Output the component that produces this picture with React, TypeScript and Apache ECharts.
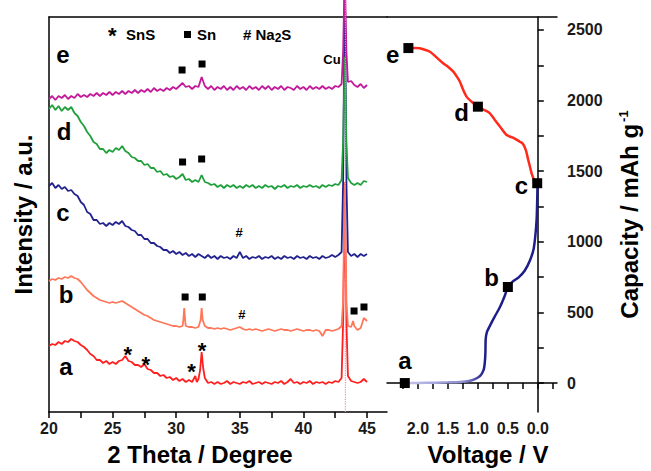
import { useEffect, useRef } from "react";
import * as echarts from "echarts";

// ---------- XRD patterns (left panel) ----------
// 2θ grid, 0.25° steps from 20 to 45
const twoTheta = Array.from({ length: 101 }, (_, i) => 20 + i * 0.25);

const xrdA = [
  66, 68, 67, 70, 68, 71, 70, 73, 71, 70,
  67, 65, 62, 58, 56, 52, 52, 49, 51, 48,
  50, 48, 51, 52, 56, 51, 50, 47, 47, 45,
  48, 43, 42, 39, 39, 36, 37, 34, 35, 32,
  34, 31, 33, 30, 32, 30, 36, 33, 60, 34,
  29, 30, 28, 30, 28, 29, 31, 28, 30, 29,
  28, 30, 29, 31, 28, 29, 30, 28, 30, 29,
  28, 30, 29, 31, 28, 30, 33, 29, 30, 28,
  30, 29, 31, 28, 30, 29, 30, 28, 30, 29,
  31, 30, 34, 210, 36, 31, 30, 29, 30, 33,
  30,
];
const xrdAExtra = [[31.62, 30], [31.88, 42], [32.12, 44], [43.12, 90], [43.38, 90]];

const xrdB = [
  131, 133, 132, 134, 133, 135, 134, 136, 134, 133,
  130, 126, 122, 119, 116, 114, 112, 111, 110, 109,
  110, 109, 110, 111, 109, 107, 105, 103, 101, 99,
  97, 96, 94, 92, 91, 90, 89, 88, 87, 86,
  86, 85, 86, 86, 85, 85, 84, 85, 104, 86,
  84, 84, 83, 84, 83, 84, 83, 82, 83, 84,
  85, 83, 82, 83, 82, 83, 82, 81, 82, 83,
  82, 81, 82, 83, 82, 82, 81, 82, 83, 82,
  81, 82, 82, 81, 82, 81, 76, 82, 82, 81,
  82, 83, 86, 230, 86, 85, 86, 82, 84, 94,
  91,
];
const xrdBExtra = [[30.56, 92], [30.63, 104], [30.7, 92], [31.92, 92], [32.08, 92], [43.12, 110], [43.38, 110], [43.9, 91]];

const xrdC = [
  226, 229, 224, 227, 223, 225, 221, 222, 218, 216,
  210, 207, 200, 198, 192, 192, 188, 189, 186, 189,
  187, 190, 188, 191, 186, 185, 182, 181, 177, 177,
  173, 173, 169, 169, 166, 165, 162, 162, 159, 161,
  158, 160, 157, 159, 156, 158, 155, 158, 156, 154,
  157, 154, 156, 153, 156, 154, 155, 153, 156, 154,
  160, 154, 156, 153, 155, 154, 156, 153, 155, 154,
  156, 153, 155, 153, 156, 154, 155, 153, 156, 154,
  155, 153, 156, 154, 155, 153, 156, 154, 155, 157,
  155, 157, 160, 440, 160, 156, 158, 155, 158, 156,
  158,
];
const xrdCExtra = [[43.12, 230], [43.38, 230]];

const xrdD = [
  303, 307, 302, 306, 301, 305, 302, 305, 299, 296,
  290, 286, 280, 276, 270, 268, 263, 263, 259, 262,
  260, 264, 262, 266, 261, 259, 255, 254, 251, 251,
  247, 248, 244, 244, 240, 241, 237, 238, 235, 236,
  233, 235, 238, 232, 233, 230, 232, 230, 237, 230,
  229, 227, 228, 225, 227, 224, 227, 225, 227, 224,
  226, 224, 227, 225, 227, 224, 226, 224, 227, 225,
  226, 223, 226, 225, 227, 224, 226, 225, 227, 224,
  226, 225, 227, 225, 226, 224, 227, 225, 227, 226,
  228, 227, 232, 355, 234, 229, 227, 229, 227, 231,
  230,
];
const xrdDExtra = [[43.12, 270], [43.38, 270]];

const xrdE = [
  313, 316, 312, 316, 314, 317, 313, 316, 314, 318,
  315, 317, 315, 318, 316, 319, 316, 319, 317, 320,
  317, 320, 318, 321, 318, 321, 319, 322, 319, 322,
  320, 323, 320, 324, 321, 323, 321, 324, 322, 325,
  323, 326, 329, 325, 326, 323, 326, 325, 335, 326,
  323, 326, 322, 325, 323, 326, 322, 325, 322, 326,
  323, 325, 322, 326, 323, 325, 322, 326, 323, 326,
  322, 325, 323, 326, 322, 325, 324, 322, 326, 323,
  325, 322, 326, 323, 325, 323, 326, 323, 325, 323,
  326, 325, 328, 440, 330, 331, 327, 325, 328, 324,
  327,
];
const xrdEExtra = [[43.12, 360], [43.38, 360]];

const cuLine = [[43.3, 0], [43.3, 412]];

// phase markers (2θ, a.u.)
const snMarks = [[30.46, 342], [32.03, 348], [30.5, 250], [32.0, 253], [30.7, 115], [32.05, 115], [43.98, 101], [44.76, 105]];
const snsMarks = [[26.2, 64], [27.6, 54], [31.2, 47], [32.03, 68]];
const na2sMarks = [[34.94, 179], [35.17, 97]];
const patternLabels = ["a", "b", "c", "d", "e"];
const patternLabelPos = [[21.34, 45], [21.34, 117], [21.1, 199], [21.18, 280], [21.1, 357]];
const cuLabelPos = [[42.25, 352]];

// ---------- voltage profile (right panel) ----------
const dischargeVoltage = [2.22, 2.0, 1.7, 1.5, 1.3, 1.15, 1.05, 0.97, 0.93, 0.9, 0.885, 0.875, 0.87, 0.85, 0.8, 0.72, 0.63, 0.55, 0.5, 0.42, 0.32, 0.22, 0.13, 0.07, 0.04, 0.02, 0.01, 0.005];
const dischargeCapacity = [0, 1, 3, 5, 8, 15, 28, 48, 70, 100, 145, 210, 310, 360, 405, 470, 540, 620, 680, 718, 748, 795, 870, 950, 1050, 1160, 1300, 1415];
const chargeVoltage = [0.01, 0.05, 0.1, 0.13, 0.16, 0.2, 0.25, 0.3, 0.4, 0.52, 0.63, 0.72, 0.8, 0.9, 1.0, 1.1, 1.19, 1.25, 1.3, 1.36, 1.41, 1.5, 1.58, 1.7, 1.8, 1.9, 1.97, 2.05, 2.16];
const chargeCapacity = [1415, 1428, 1480, 1530, 1580, 1650, 1695, 1709, 1735, 1756, 1815, 1865, 1910, 1935, 1957, 1990, 2028, 2080, 2134, 2175, 2205, 2240, 2264, 2310, 2346, 2362, 2370, 2373, 2372];
const stateLabels = ["a", "b", "c", "d", "e"];
const stateVoltage = [2.22, 0.5, 0.01, 1.0, 2.16];
const stateCapacity = [0, 680, 1415, 1957, 2372];

// ticks
const thetaTicks = [20, 22.5, 25, 27.5, 30, 32.5, 35, 37.5, 40, 42.5, 45];
const thetaLabels = [20, 25, 30, 35, 40, 45];
const voltTicks = [-0.25, 0, 0.25, 0.5, 0.75, 1, 1.25, 1.5, 1.75, 2, 2.25];
const voltLabels = [0, 0.5, 1, 1.5, 2];
const capTicks = [0, 250, 500, 750, 1000, 1250, 1500, 1750, 2000, 2250, 2500];
const capLabels = [0, 500, 1000, 1500, 2000, 2500];

const FONT = "'Liberation Sans', Arial, Helvetica, sans-serif";
const INK = "#000";

function merge(vals: number[], extra: number[][]) {
  const pts = vals.map((v, i) => [twoTheta[i], v]).concat(extra);
  pts.sort((p, q) => p[0] - q[0]);
  return pts;
}

export default function App() {
  const ref = useRef<HTMLDivElement>(null);
  useEffect(() => {
    const chart = echarts.init(ref.current!, null, { renderer: "svg" });
    const axisLine = { show: true, lineStyle: { color: "#000", width: 1.5 } };
    const tickStyle = { color: "#000", width: 1.5 };
    const labelFont = { fontSize: 16, fontWeight: "bold", fontFamily: FONT, color: "#1a1a1a" };
    const titleFont = { fontSize: 24, fontWeight: "bold", fontFamily: FONT, color: INK };

    const xrdLine = (name: string, data: number[][], color: string) => ({
      name,
      type: "line",
      xAxisIndex: 0,
      yAxisIndex: 0,
      data,
      showSymbol: false,
      clip: false,
      silent: true,
      lineStyle: { color, width: 1.8 },
      z: 2,
    });
    // text-only marks, centred on their data point
    const textMarks = (data: any[], text: string, size: number, dy: number) => ({
      type: "scatter",
      xAxisIndex: 0,
      yAxisIndex: 0,
      data,
      symbol: "rect",
      symbolSize: 0.01,
      itemStyle: { color: "#000", opacity: 1 },
      silent: true,
      clip: false,
      z: 5,
      label: {
        show: true,
        position: "top",
        distance: 0,
        formatter: text,
        fontSize: size,
        fontWeight: "bold",
        fontFamily: FONT,
        color: INK,
        opacity: 1,
        offset: [0, size / 2 + dy],
      },
    });

    const labelPos: any = {
      a: { position: "top", distance: 6, offset: [0, 0] },
      b: { position: "left", distance: 4, offset: [0, -10] },
      c: { position: "left", distance: 4, offset: [0, 2] },
      d: { position: "left", distance: 4, offset: [0, 6] },
      e: { position: "left", distance: 4, offset: [0, 6] },
    };

    const option: any = {
      animation: false,
      backgroundColor: "#fff",
      grid: [
        { left: 49, top: 17, width: 338, height: 395 },
        { left: 387, top: 17, width: 170, height: 395 },
      ],
      xAxis: [
        {
          gridIndex: 0,
          type: "value",
          min: 20,
          max: 46.57,
          position: "bottom",
          axisLine,
          axisTick: { show: true, length: 6, lineStyle: tickStyle, customValues: thetaTicks },
          axisLabel: { ...labelFont, margin: 8, customValues: thetaLabels, formatter: (v: number) => String(v) },
          splitLine: { show: false },
          name: "2 Theta / Degree",
          nameLocation: "middle",
          nameGap: 30,
          nameTextStyle: { ...titleFont, padding: [0, 36, 0, 0] },
        },
        {
          gridIndex: 0,
          type: "value",
          min: 20,
          max: 46.57,
          position: "top",
          axisLine,
          axisTick: { show: false },
          axisLabel: { show: false },
          splitLine: { show: false },
        },
        {
          gridIndex: 1,
          type: "value",
          min: -0.32,
          max: 2.517,
          inverse: true,
          position: "bottom",
          axisLine,
          axisTick: { show: true, length: 6, lineStyle: tickStyle, customValues: voltTicks },
          axisLabel: { ...labelFont, margin: 8, customValues: voltLabels, formatter: (v: number) => v.toFixed(1) },
          splitLine: { show: false },
          name: "Voltage / V",
          nameLocation: "middle",
          nameGap: 30,
          nameTextStyle: { ...titleFont, padding: [0, 0, 0, 32] },
        },
        {
          gridIndex: 1,
          type: "value",
          min: -0.32,
          max: 2.517,
          inverse: true,
          position: "top",
          axisLine,
          axisTick: { show: false },
          axisLabel: { show: false },
          splitLine: { show: false },
        },
      ],
      yAxis: [
        {
          gridIndex: 0,
          type: "value",
          min: 0,
          max: 395,
          position: "left",
          axisLine,
          axisTick: { show: false },
          axisLabel: { show: false },
          splitLine: { show: false },
          name: "Intensity / a.u.",
          nameLocation: "middle",
          nameGap: 14,
          nameRotate: 90,
          nameTextStyle: titleFont,
        },
        {
          gridIndex: 1,
          type: "value",
          min: -205,
          max: 2592,
          position: "right",
          axisLine,
          axisTick: { show: true, length: 6, lineStyle: tickStyle, customValues: capTicks },
          axisLabel: { ...labelFont, margin: 10, customValues: capLabels, formatter: (v: number) => String(v) },
          splitLine: { show: false },
          name: "{t|Capacity / mAh g}{s|-1}",
          nameLocation: "middle",
          nameGap: 60,
          nameRotate: 90,
          nameTextStyle: {
            ...titleFont,
            rich: {
              t: { ...titleFont },
              s: { fontSize: 13, fontWeight: "bold", fontFamily: FONT, color: INK, verticalAlign: "top", padding: [0, 0, 12, 2] },
            },
          },
        },
      ],
      graphic: [
        { type: "text", left: 108, top: 24, style: { text: "*", font: `bold 22px ${FONT}`, fill: INK } },
        { type: "text", left: 126, top: 27, style: { text: "SnS", font: `bold 15px ${FONT}`, fill: INK } },
        { type: "rect", left: 184, top: 31, shape: { width: 7, height: 7 }, style: { fill: "#000" } },
        { type: "text", left: 197, top: 27, style: { text: "Sn", font: `bold 15px ${FONT}`, fill: INK } },
        {
          type: "text",
          left: 243,
          top: 27,
          style: {
            text: "# Na{sub|2}S",
            font: `bold 15px ${FONT}`,
            fill: INK,
            rich: { sub: { fontSize: 12, fontWeight: "bold", fontFamily: FONT, fill: INK, padding: [7, 0, 0, 0] } },
          },
        },
      ],
      series: [
        xrdLine("a", merge(xrdA, xrdAExtra), "#ff1f1f"),
        xrdLine("b", merge(xrdB, xrdBExtra), "#ff7658"),
        xrdLine("c", merge(xrdC, xrdCExtra), "#22228e"),
        xrdLine("d", merge(xrdD, xrdDExtra), "#1fa03a"),
        xrdLine("e", merge(xrdE, xrdEExtra), "#c2189a"),
        {
          type: "line",
          xAxisIndex: 0,
          yAxisIndex: 0,
          data: cuLine,
          showSymbol: false,
          clip: false,
          silent: true,
          lineStyle: { color: "#ff7ccc", width: 1.2, type: "dotted" },
          z: 3,
        },
        {
          type: "scatter",
          xAxisIndex: 0,
          yAxisIndex: 0,
          data: snMarks,
          symbol: "rect",
          symbolSize: 7,
          itemStyle: { color: "#000", opacity: 1 },
          silent: true,
          z: 5,
        },
        textMarks(snsMarks, "*", 22, 7),
        textMarks(na2sMarks, "#", 13, 0),
        textMarks(patternLabelPos.map((p, i) => ({ value: p, name: patternLabels[i] })), "{b}", 24, 0),
        textMarks(cuLabelPos, "Cu", 13, 0),
        {
          type: "line",
          xAxisIndex: 2,
          yAxisIndex: 1,
          data: dischargeVoltage.map((v, i) => [v, dischargeCapacity[i]]),
          showSymbol: false,
          smooth: 0.25,
          silent: true,
          lineStyle: {
            width: 2.5,
            color: new echarts.graphic.LinearGradient(0, 0, 1, 0, [
              { offset: 0, color: "#c4c4ea" },
              { offset: 0.45, color: "#8c8cd2" },
              { offset: 0.6, color: "#1e1e8a" },
              { offset: 1, color: "#1e1e8a" },
            ]),
          },
          z: 2,
        },
        {
          type: "line",
          xAxisIndex: 2,
          yAxisIndex: 1,
          data: chargeVoltage.map((v, i) => [v, chargeCapacity[i]]),
          showSymbol: false,
          smooth: 0.25,
          silent: true,
          lineStyle: { width: 2.5, color: "#ff2a1a" },
          z: 2,
        },
        {
          type: "scatter",
          xAxisIndex: 2,
          yAxisIndex: 1,
          data: stateLabels.map((n, i) => ({
            name: n,
            value: [stateVoltage[i], stateCapacity[i]],
            label: labelPos[n],
          })),
          symbol: "rect",
          symbolSize: 10,
          itemStyle: { color: "#000", opacity: 1 },
          silent: true,
          z: 5,
          label: {
            show: true,
            formatter: "{b}",
            fontSize: 24,
            fontWeight: "bold",
            fontFamily: FONT,
            color: INK,
            opacity: 1,
          },
        },
      ],
    };
    chart.setOption(option);
    return () => chart.dispose();
  }, []);
  return (
    <div
      ref={ref}
      style={{ position: "fixed", left: 0, top: 0, width: 651, height: 471, background: "#fff" }}
    />
  );
}
